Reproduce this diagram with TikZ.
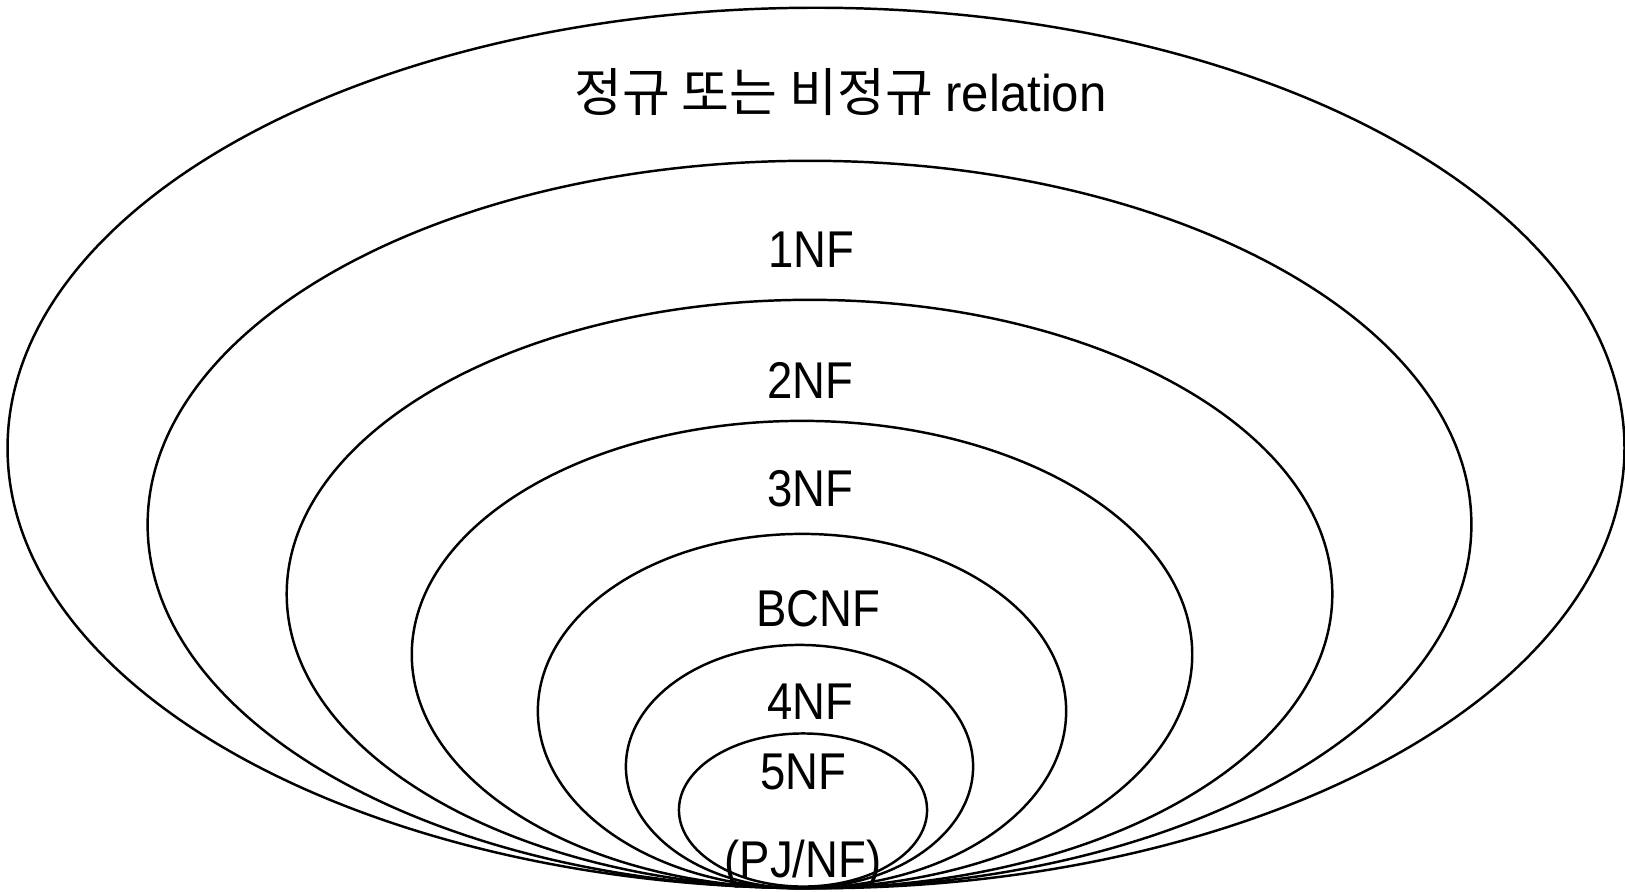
\documentclass[tikz,border=0pt]{standalone}
\usepackage{fontspec}
\setmainfont{Liberation Sans}[FakeStretch=0.88]
\newfontfamily\ttlfont{Liberation Sans}[FakeStretch=0.95]
\newfontfamily\kr{Noto Sans CJK KR}
\usetikzlibrary{shapes.geometric}
\begin{document}
\begin{tikzpicture}[x=0.01cm,y=-0.01cm,
  ell/.style={draw=black,line width=0.7pt,ellipse,inner sep=0pt},
  lbl/.style={anchor=base,inner sep=0pt,font=\fontsize{14.7pt}{16pt}\selectfont}]
\useasboundingbox (0,0) rectangle (1625,891);
\node[ell,minimum width=16.16cm,minimum height=8.80cm] (e1) at (816,448) {};
\node[ell,minimum width=13.23cm,minimum height=7.27cm] (e2) at (809.5,524.5) {};
\node[ell,minimum width=10.45cm,minimum height=5.88cm] (e3) at (809.5,594) {};
\node[ell,minimum width=7.80cm,minimum height=4.67cm] (e4) at (802,654.5) {};
\node[ell,minimum width=5.28cm,minimum height=3.54cm] (e5) at (802,711) {};
\node[ell,minimum width=3.47cm,minimum height=2.43cm] (e6) at (799.5,766.5) {};
\node[ell,minimum width=2.48cm,minimum height=1.53cm] (e7) at (803,810) {};
\node[lbl] (t0) at (840.5,112) {{\kr\fontsize{14.8pt}{16pt}\selectfont 정규 또는 비정규} {\ttlfont relation}};
\node[lbl] (t1) at (811.5,267.5) {1NF};
\node[lbl] (t2) at (810.5,398.5) {2NF};
\node[lbl] (t3) at (810.5,506.5) {3NF};
\node[lbl] (t4) at (818,626.5) {BCNF};
\node[lbl] (t5) at (810.5,719) {4NF};
\node[lbl] (t6) at (803,789) {5NF};
\node[lbl] (t7) at (803,877) {(PJ/NF)};
\end{tikzpicture}
\end{document}
